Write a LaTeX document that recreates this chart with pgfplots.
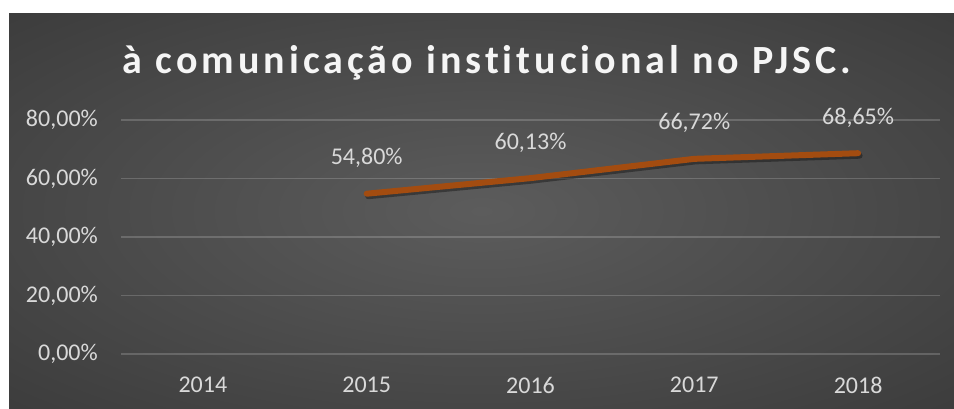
\documentclass[border=0pt]{standalone}
\usepackage{fontspec}
\setmainfont{Carlito}
\newfontfamily\titlefont{Carlito}[LetterSpace=10, Ligatures=NoCommon]
\usepackage{pgfplots}
\pgfplotsset{compat=1.18}
\definecolor{txt}{RGB}{217,217,217}
\definecolor{ln}{RGB}{163,76,16}
\definecolor{bgin}{RGB}{92,92,92}
\definecolor{bgmid}{RGB}{46,46,46}
\definecolor{bgout}{RGB}{36,36,36}
\pgfdeclareradialshading{bgshade}{\pgfpoint{0bp}{0bp}}{color(0bp)=(bgin); color(52bp)=(bgmid); color(71bp)=(bgout)}
\begin{document}
\begin{tikzpicture}[x=1bp,y=1bp]
\useasboundingbox (0,0) rectangle (954,408);
\fill[white] (0,0) rectangle (954,408);
\shade[shading=bgshade] (9,0) rectangle (954,394);
\node[anchor=base, text=white!96!black, inner sep=0pt, font=\titlefont\bfseries\fontsize{40bp}{46bp}\selectfont] at (487,335) {à comunicação institucional no PJSC.};
\begin{axis}[
  at={(121bp,54bp)}, anchor=south west,
  scale only axis, width=819bp, height=234bp,
  xmin=2013.5, xmax=2018.5, ymin=0, ymax=0.8,
  clip=false,
  axis line style={draw=none},
  major tick length=0pt,
  ymajorgrids,
  grid style={white, opacity=0.18, line width=1.3bp},
  xtick={2014,2015,2016,2017,2018},
  xticklabels={2014,2015,2016,2017,2018},
  ytick={0,0.2,0.4,0.6,0.8},
  yticklabels={{0,00\%},{20,00\%},{40,00\%},{60,00\%},{80,00\%}},
  tick label style={text=txt, font=\fontsize{24bp}{28bp}\selectfont, inner sep=0pt},
  yticklabel style={anchor=east, xshift=-23bp},
  xticklabel style={anchor=north, yshift=-23bp},
]
\addplot[black, opacity=0.35, line width=6bp, line cap=round, line join=round, xshift=1.5bp, yshift=-2.5bp, forget plot]
  coordinates {(2015,0.548) (2016,0.6013) (2017,0.6672) (2018,0.6865)};
\addplot[ln, line width=6bp, line cap=round, line join=round,
  nodes near coords, point meta=explicit symbolic,
  nodes near coords style={text=txt, font=\fontsize{24bp}{28bp}\selectfont, anchor=south, inner sep=0pt, yshift=23bp}]
  coordinates {(2015,0.548)[54,80\%] (2016,0.6013)[60,13\%] (2017,0.6672)[66,72\%] (2018,0.6865)[68,65\%]};
\end{axis}
\end{tikzpicture}
\end{document}
